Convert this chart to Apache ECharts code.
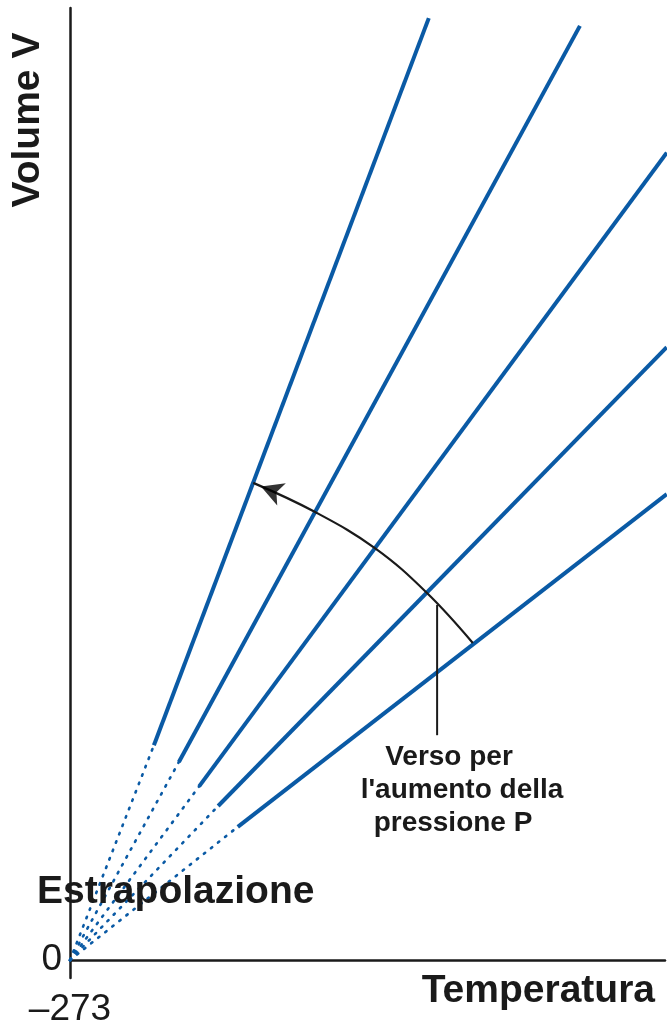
<!DOCTYPE html>
<html><head><meta charset="utf-8">
<script src="https://cdn.jsdelivr.net/npm/echarts@6/dist/echarts.min.js"></script>
<style>html,body{margin:0;padding:0;background:#fff}#c{width:669px;height:1022px}</style>
</head><body><div id="c"></div>
<script>
// tick labels
const xTickLabels = { 0: '\u2013273' };
const yTickLabels = { 0: '0' };
// five isobars: dotted extrapolation from origin to solidStarts, then solid to lineEnds
const lineStarts  = [[0, 0], [0, 0], [0, 0], [0, 0], [0, 0]];
const solidStarts = [[14.1, 36.1], [18.3, 33.3], [21.7, 29.2], [24.9, 25.9], [28.2, 22.4]];
const lineEnds    = [[60.3, 158.3], [85.7, 157.0], [100.3, 135.7], [100.3, 103.0], [100.3, 78.3]];
// arc arrow (direction of increasing pressure)
const arcPoints   = [[67.7, 53.3], [60.0, 61.7], [51.3, 69.2], [41.2, 75.3], [30.8, 80.2]];
const arrowHead   = [[32.1, 79.6]];
const pointerLine = [[61.7, 59.7], [61.7, 37.8]];
const texts = {
  y: 'Volume V', x: 'Temperatura', extra: 'Estrapolazione',
  note: ['Verso per', "l'aumento della", 'pressione P']
};

const FONT = '"Liberation Sans", Arial, Helvetica, sans-serif';
const BLUE = '#0a5aa5';
const INK = '#1a1a1a';

const series = [];
for (let i = 0; i < lineEnds.length; i++) {
  series.push({
    type: 'line', data: [lineStarts[i], solidStarts[i]], symbol: 'none', clip: false,
    lineStyle: { color: BLUE, width: 2.6, type: [1.6, 7.4], cap: 'round' }, silent: true, z: 2
  });
  series.push({
    type: 'line', data: [solidStarts[i], lineEnds[i]], symbol: 'none', clip: false,
    lineStyle: { color: BLUE, width: 4, cap: 'butt' }, silent: true, z: 3
  });
}
series.push({
  type: 'line', data: arcPoints, symbol: 'none', smooth: 0.4, clip: false,
  lineStyle: { color: INK, width: 2.2 }, silent: true, z: 5
});
series.push({
  type: 'line', data: pointerLine, symbol: 'none', clip: false,
  lineStyle: { color: INK, width: 2 }, silent: true, z: 5
});
series.push({
  type: 'scatter', data: arrowHead, symbol: 'arrow', symbolSize: [18, 22], symbolRotate: 69,
  itemStyle: { color: '#000' }, silent: true, z: 6
});

const chart = echarts.init(document.getElementById('c'), null, { renderer: 'canvas' });
chart.setOption({
  animation: false,
  backgroundColor: '#fff',
  grid: { left: 70, right: 4, top: 8, bottom: 44, containLabel: false, outerBoundsMode: 'none' },
  xAxis: {
    type: 'value', min: 0, max: 100, interval: 100,
    axisLine: { onZero: true, lineStyle: { color: INK, width: 2.5 } },
    axisTick: { show: false }, splitLine: { show: false },
    axisLabel: {
      formatter: v => xTickLabels[v] || '', margin: 13,
      fontFamily: FONT, fontSize: 37, color: INK
    }
  },
  yAxis: {
    type: 'value', min: -3, max: 160, interval: 1,
    axisLine: { show: true, lineStyle: { color: INK, width: 2.5 } },
    axisTick: { show: false }, splitLine: { show: false },
    axisLabel: {
      formatter: v => yTickLabels[v] || '', margin: 8,
      fontFamily: FONT, fontSize: 37, color: INK
    }
  },
  series: series,
  graphic: [
    { type: 'text', x: 28, y: 120, rotation: Math.PI / 2, z: 100,
      style: { text: texts.y, font: 'bold 39px ' + FONT, fill: INK, align: 'center', verticalAlign: 'middle' } },
    { type: 'text', x: 37, y: 892, z: 100,
      style: { text: texts.extra, font: 'bold 39px ' + FONT, fill: INK, align: 'left', verticalAlign: 'middle' } },
    { type: 'text', x: 655, y: 991, z: 100,
      style: { text: texts.x, font: 'bold 39px ' + FONT, fill: INK, align: 'right', verticalAlign: 'middle' } },
    { type: 'text', x: 449, y: 757, z: 100,
      style: { text: texts.note[0], font: 'bold 28px ' + FONT, fill: INK, align: 'center', verticalAlign: 'middle' } },
    { type: 'text', x: 462, y: 790, z: 100,
      style: { text: texts.note[1], font: 'bold 28px ' + FONT, fill: INK, align: 'center', verticalAlign: 'middle' } },
    { type: 'text', x: 453, y: 823, z: 100,
      style: { text: texts.note[2], font: 'bold 28px ' + FONT, fill: INK, align: 'center', verticalAlign: 'middle' } }
  ]
});
</script>
</body></html>
